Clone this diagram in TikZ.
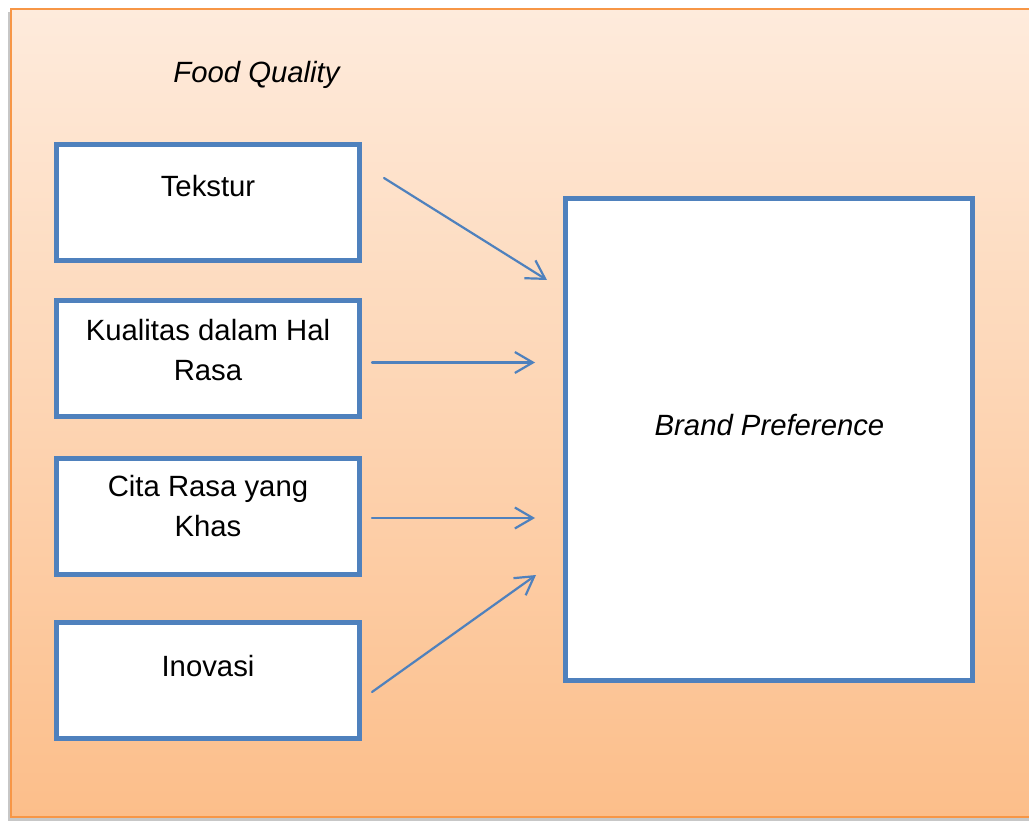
\documentclass[tikz,border=0pt]{standalone}
\usepackage{fontspec}
\setmainfont{Liberation Sans}
\usetikzlibrary{arrows.meta}
\definecolor{boxblue}{RGB}{79,129,189}
\definecolor{bgtop}{RGB}{254,235,220}
\definecolor{bgbot}{RGB}{252,190,138}
\definecolor{bgline}{RGB}{247,150,70}
\begin{document}
\begin{tikzpicture}[x=1pt,y=-1pt,
  fbox/.style={draw=boxblue, line width=5pt, fill=white, minimum width=303pt, minimum height=116pt, inner sep=0pt},
  bigbox/.style={draw=boxblue, line width=5pt, fill=white, minimum width=407pt, minimum height=482pt, inner sep=0pt},
  lbl/.style={font=\fontsize{29.3}{40}\selectfont, align=center, inner sep=0pt},
  ilbl/.style={font=\fontsize{29.3}{40}\selectfont\itshape, align=center, inner sep=0pt},
  conn/.style={draw=boxblue, line width=2.2pt, line cap=round, -{Straight Barb[length=18pt,width=21pt]}}
]
\useasboundingbox (0,0) rectangle (1029,821);
\clip (0,0) rectangle (1029,821);
% background panel with shadow
\fill[black!22] (8,12) rectangle (1040,821);
\shade[top color=bgtop, bottom color=bgbot, draw=bgline, line width=1.5pt] (11,9) rectangle (1040,817);

% boxes
\node[fbox] (tek) at (208,202.5) {};
\node[fbox] (kua) at (208,358.5) {};
\node[fbox] (cit) at (208,516.5) {};
\node[fbox] (ino) at (208,680.5) {};
\node[bigbox] (bp) at (769,439.5) {};

% texts
\node[ilbl, anchor=base] (fq) at (256.5,83) {Food Quality};
\node[lbl, anchor=base] (tektxt) at (208,197) {Tekstur};
\node[lbl, anchor=north] (kuatxt) at (208,319) {Kualitas dalam Hal\\Rasa};
\node[lbl, anchor=north] (cittxt) at (208,475) {Cita Rasa yang\\Khas};
\node[lbl, anchor=base] (inotxt) at (208,676) {Inovasi};
\node[ilbl, anchor=base] (bptxt) at (769.5,435) {Brand Preference};

% connectors
\draw[conn] ([xshift=22pt,yshift=24.5pt]tek.east) -- ([xshift=-16pt,yshift=159.5pt]bp.west);
\draw[conn] ([xshift=10pt,yshift=-4pt]kua.east) -- ([xshift=-28pt,yshift=77pt]bp.west);
\draw[conn] ([xshift=10pt,yshift=-1.5pt]cit.east) -- ([xshift=-28pt,yshift=-78.5pt]bp.west);
\draw[conn] ([xshift=10pt,yshift=-11.5pt]ino.east) -- ([xshift=-27pt,yshift=-135.5pt]bp.west);
\end{tikzpicture}
\end{document}
